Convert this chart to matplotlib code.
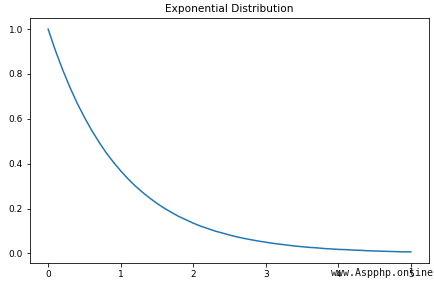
import matplotlib
matplotlib.use("Agg")
import matplotlib.pyplot as plt

# values, step 0.1 from 0 to 5
x_vals = [i / 10 for i in range(51)]
density = [1.0, 0.905, 0.819, 0.741, 0.670, 0.607, 0.549, 0.497, 0.449, 0.407,
           0.368, 0.333, 0.301, 0.273, 0.247, 0.223, 0.202, 0.183, 0.165, 0.150,
           0.135, 0.122, 0.111, 0.100, 0.091, 0.082, 0.074, 0.067, 0.061, 0.055,
           0.050, 0.045, 0.041, 0.037, 0.033, 0.030, 0.027, 0.025, 0.022, 0.020,
           0.018, 0.017, 0.015, 0.014, 0.012, 0.011, 0.010, 0.009, 0.008, 0.007,
           0.007]
x_ticks = [0, 1, 2, 3, 4, 5]
y_ticks = [0.0, 0.2, 0.4, 0.6, 0.8, 1.0]

fig = plt.figure(figsize=(434 / 72, 281 / 72), dpi=72)
ax = fig.add_axes([30 / 434, 18 / 281, 399 / 434, 245 / 281])
ax.plot(x_vals, density, color="#1f77b4", linewidth=1.5)
ax.set_xticks(x_ticks)
ax.set_yticks(y_ticks)
ax.tick_params(labelsize=9)
ax.set_title("Exponential Distribution", fontsize=10.5)

# site watermark in the bottom-right corner
fig.text(0.998, 0.012, "www.Aspphp.online", ha="right", va="bottom",
         fontsize=10, family="DejaVu Sans Mono", color="#111111")

fig.savefig("out.png", dpi=72)
